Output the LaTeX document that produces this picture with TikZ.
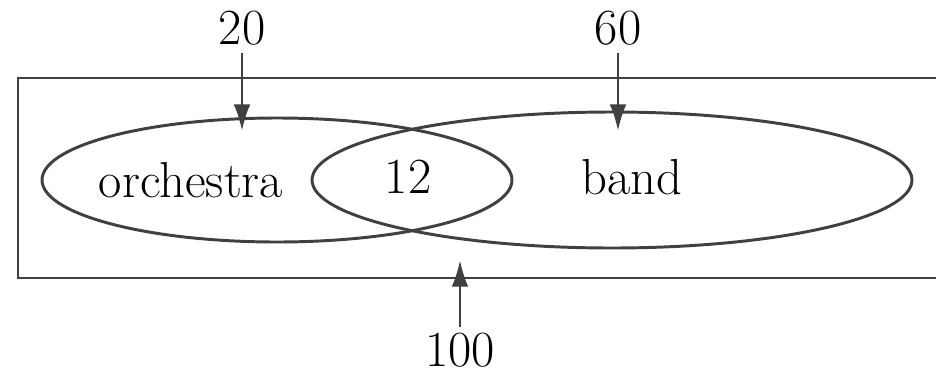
\documentclass[tikz,border=0pt]{standalone}
\usetikzlibrary{arrows.meta}
\definecolor{ink}{HTML}{404040}
\begin{document}
\begin{tikzpicture}[x=0.025cm,y=-0.025cm,
  line/.style={draw=ink,line width=2.1pt},
  lbl/.style={inner sep=0pt,font=\fontsize{36}{42}\selectfont},
  pointer/.style={line,-{Latex[length=19pt,width=12pt]}}]
\useasboundingbox (0,0) rectangle (936,377);
% universe box, running off the right edge
\draw[line] (937,78) -- (18,78) -- (18,278) -- (937,278);
% the two sets
\draw[line] (277,180) ellipse [x radius=235, y radius=62];
\draw[line] (612,180) ellipse [x radius=300, y radius=68];
% labels
\node[lbl] (orch) at (191,180) {orchestra};
\node[lbl] (both) at (408,177) {12};
\node[lbl] (band) at (632,177) {band};
\node[lbl] (n20) at (242,28) {20};
\node[lbl] (n60) at (618,28) {60};
\node[lbl] (n100) at (460,350) {100};
% arrow targets
\coordinate (t20) at (242,131);
\coordinate (t60) at (618,131);
\coordinate (t100) at (460,260);
\draw[pointer] (n20.south) ++(0,8) -- (t20);
\draw[pointer] (n60.south) ++(0,8) -- (t60);
\draw[pointer] (n100.north) ++(0,-6) -- (t100);
\end{tikzpicture}
\end{document}
